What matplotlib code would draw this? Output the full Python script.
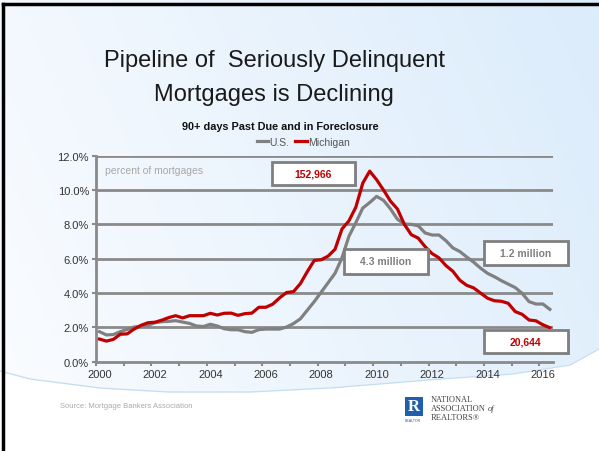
import numpy as np
import matplotlib
matplotlib.use("Agg")
import matplotlib.pyplot as plt
from matplotlib.patches import Rectangle

# ---------------- data (quarterly, 2000Q1 .. 2016Q2) ----------------
us = [1.75, 1.56, 1.58, 1.75, 1.88, 2.02, 2.06, 2.12, 2.27, 2.33, 2.35, 2.39,
      2.31, 2.23, 2.08, 2.05, 2.18, 2.08, 1.92, 1.86, 1.86, 1.75, 1.71, 1.87,
      1.90, 1.90, 1.90, 2.02, 2.22, 2.50, 3.00, 3.50, 4.05, 4.60, 5.15, 6.05,
      7.30, 8.10, 8.95, 9.27, 9.63, 9.40, 8.90, 8.30, 8.02, 8.00, 7.92, 7.50,
      7.38, 7.38, 7.05, 6.63, 6.42, 6.10, 5.80, 5.45, 5.15, 4.95, 4.72, 4.52,
      4.32, 3.98, 3.50, 3.36, 3.36, 3.05]
michigan = [1.32, 1.20, 1.30, 1.60, 1.62, 1.90, 2.12, 2.27, 2.30, 2.42, 2.57, 2.68,
            2.55, 2.68, 2.68, 2.68, 2.82, 2.72, 2.82, 2.83, 2.70, 2.80, 2.83, 3.17,
            3.17, 3.35, 3.72, 4.03, 4.08, 4.55, 5.25, 5.90, 5.94, 6.15, 6.55, 7.73,
            8.20, 9.00, 10.40, 11.10, 10.60, 10.00, 9.35, 8.90, 8.00, 7.40, 7.20, 6.70,
            6.30, 6.05, 5.60, 5.27, 4.75, 4.45, 4.30, 4.00, 3.70, 3.55, 3.52, 3.40,
            2.92, 2.76, 2.43, 2.38, 2.15, 1.98]
years = [str(y) for y in range(2000, 2017, 2)]
yticks = [0, 2, 4, 6, 8, 10, 12]
ytick_labels = ["%.1f%%" % v for v in yticks]
series_names = ["U.S.", "Michigan"]
callouts = [("152,966", "#C00000"), ("4.3 million", "#808080"),
            ("1.2 million", "#808080"), ("20,644", "#C00000")]

W, H = 599, 452
fig = plt.figure(figsize=(W / 100, H / 100), dpi=100)

# ---------------- background ----------------
bg = fig.add_axes([0, 0, 1, 1], zorder=-10)
bg.set_xlim(0, W)
bg.set_ylim(H, 0)
bg.axis("off")
gx = np.linspace(0, 1, 300)
gy = np.linspace(0, 1, 230)
GX, GY = np.meshgrid(gx, gy)
t = np.clip(0.75 * GX + 0.25 * (1 - GY), 0, 1)
c0 = np.array([0.985, 0.99, 1.0])
c1 = np.array([0.86, 0.925, 0.985])
img = c0[None, None, :] * (1 - t[..., None]) + c1[None, None, :] * t[..., None]
bg.imshow(img, extent=[0, W, H, 0], aspect="auto", zorder=0)
cx = np.array([0, 30, 100, 167, 250, 330, 427, 513, 570, 599])
cy = np.array([372, 380, 389, 393, 393, 389, 381, 375, 366, 350])
xs = np.linspace(0, W, 300)
ys = np.interp(xs, cx, cy)
bg.fill_between(xs, ys, H, color="white", zorder=1)
bg.plot(xs, ys, color="#c6def3", lw=1.0, zorder=2)
bg.plot([3, 3], [5, H], color="black", lw=2.5, zorder=3)
bg.plot([3, W], [5, 5], color="black", lw=2.5, zorder=3)

# ---------------- titles ----------------
fig.text(274 / W, 1 - 61 / H, "Pipeline of  Seriously Delinquent",
         ha="center", va="center", fontsize=17, family="Liberation Sans",
         color="#1a1a1a")
fig.text(274 / W, 1 - 95 / H, "Mortgages is Declining",
         ha="center", va="center", fontsize=17, family="Liberation Sans",
         color="#1a1a1a")
fig.text(280 / W, 1 - 127 / H, "90+ days Past Due and in Foreclosure",
         ha="center", va="center", fontsize=7.8, fontweight="bold",
         family="Liberation Sans", color="#111111")

# ---------------- chart ----------------
ax = fig.add_axes([96 / W, 1 - 362.7 / H, (553.3 - 96) / W, (362.7 - 156.7) / H])
ax.patch.set_alpha(0)
x = np.arange(len(us))
ax.set_xlim(-0.5, len(us) - 0.5)
ax.set_ylim(0, 12)
for v in yticks[1:]:
    ax.axhline(v, color="#8a8a8a", lw=2, zorder=1)
l1, = ax.plot(x, us, color="#808080", lw=2.3, zorder=3, label=series_names[0],
              solid_joinstyle="round")
l2, = ax.plot(x, michigan, color="#C00000", lw=2.3, zorder=4, label=series_names[1],
              solid_joinstyle="round")

for s in ["top", "right"]:
    ax.spines[s].set_visible(False)
for s in ["left", "bottom"]:
    ax.spines[s].set_color("#8a8a8a")
    ax.spines[s].set_linewidth(2)
ax.set_yticks(yticks)
ax.set_yticklabels(ytick_labels)
ax.set_xticks(np.arange(-0.5, len(us), 4))
ax.set_xticklabels([])
ax.set_xticks(np.arange(0, len(us), 8), minor=True)
ax.set_xticklabels(years, minor=True)
ax.tick_params(axis="x", which="major", length=3, width=1.5, color="#8a8a8a")
ax.tick_params(axis="x", which="minor", length=0, pad=5)
ax.tick_params(axis="y", length=3, width=1.5, color="#8a8a8a", pad=2)
for lab in ax.get_xticklabels(minor=True) + ax.get_yticklabels():
    lab.set_fontsize(8)
    lab.set_color("#333333")
    lab.set_family("Liberation Sans")

ax.text(0.02, 0.93, "percent of mortgages", transform=ax.transAxes,
        fontsize=7.5, color="#a8a8a8", family="Liberation Sans", va="center")

fig.legend(handles=[l1, l2], labels=series_names, loc="center",
           bbox_to_anchor=(303 / W, 1 - 143 / H), ncol=2, frameon=False,
           handlelength=1.1, handletextpad=0.1, columnspacing=0.6,
           prop={"family": "Liberation Sans", "size": 7.5},
           labelcolor="#555555", borderpad=0)

# ---------------- callout boxes (overlay) ----------------
ov = fig.add_axes([0, 0, 1, 1], zorder=20)
ov.set_xlim(0, W)
ov.set_ylim(H, 0)
ov.axis("off")
ov.patch.set_alpha(0)
boxes = [(272, 163, 355, 185.5), (343.5, 250, 427.5, 275),
         (484, 242, 567.5, 266), (483.5, 331, 567.5, 354)]
for (txt, col), (x0, y0, x1, y1) in zip(callouts, boxes):
    ov.add_patch(Rectangle((x0 + 2, y0 + 2), x1 - x0, y1 - y0, fc="#000000",
                           alpha=0.18, ec="none"))
    ov.add_patch(Rectangle((x0, y0), x1 - x0, y1 - y0, fc="white",
                           ec="#7f7f7f", lw=2))
    ov.text((x0 + x1) / 2, (y0 + y1) / 2, txt, ha="center", va="center",
            color=col, fontsize=7.5, fontweight="bold",
            family="Liberation Sans")

# ---------------- footer ----------------
ov.text(60, 407, "Source: Mortgage Bankers Association", fontsize=5.5,
        color="#aaaaaa", family="Liberation Sans", va="center")
ov.add_patch(Rectangle((405, 398), 18, 19, fc="#1f5fae", ec="none"))
ov.text(414, 407.5, "R", color="white", fontsize=12, fontweight="bold",
        family="Liberation Serif", ha="center", va="center")
ov.text(405, 421, "REALTOR", color="#1f5fae", fontsize=2.5,
        family="Liberation Sans", va="center")
ov.text(431, 400.5, "NATIONAL", fontsize=6, family="Liberation Serif",
        color="#444444", va="center")
assoc = ov.text(431, 409.5, "ASSOCIATION", fontsize=6, family="Liberation Serif",
                color="#444444", va="center")
ov.text(431, 418.5, "REALTORS®", fontsize=6, family="Liberation Serif",
        color="#444444", va="center")
fig.canvas.draw()
bb = assoc.get_window_extent()
x_end = bb.x1 + 1.5
ov.text(x_end, 409.5, "of", fontsize=6, family="Liberation Serif",
        style="italic", color="#444444", va="center")

fig.savefig("out.png", dpi=100)
